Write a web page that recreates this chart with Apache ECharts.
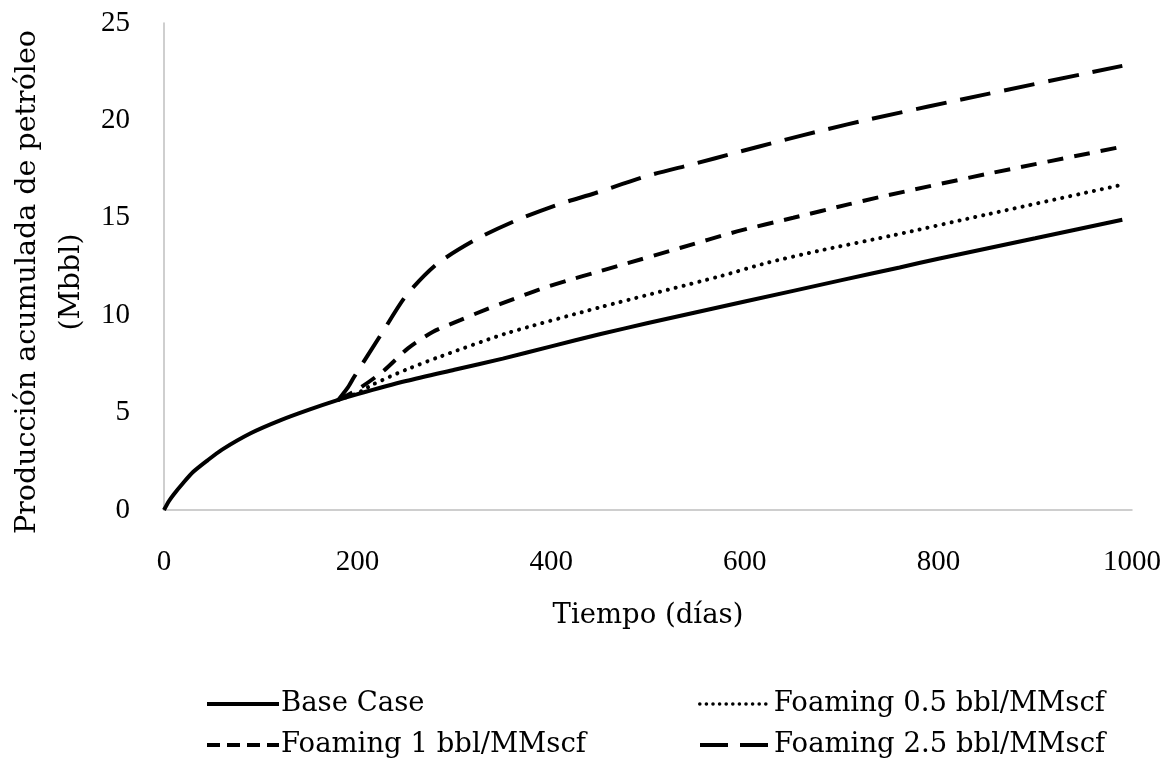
<!DOCTYPE html>
<html>
<head>
<meta charset="utf-8">
<style>
  html, body { margin: 0; padding: 0; background: #ffffff; }
  #chart { width: 1168px; height: 759px; }
</style>
<script src="https://cdn.jsdelivr.net/npm/echarts@6/dist/echarts.min.js"></script>
</head>
<body>
<div id="chart"></div>
<script>
// Cumulative oil production (Mbbl) versus time (days)
const seriesNames = ['Base Case', 'Foaming 0.5 bbl/MMscf', 'Foaming 1 bbl/MMscf', 'Foaming 2.5 bbl/MMscf'];

const baseDays = [0, 5, 10, 20, 30, 45, 60, 90, 120, 150, 180, 200, 250, 300, 350, 400, 450, 500, 600, 700, 760, 800, 900, 990];
const baseOil  = [0, 0.45, 0.8, 1.4, 1.95, 2.55, 3.1, 3.95, 4.6, 5.15, 5.65, 5.95, 6.62, 7.2, 7.77, 8.4, 9.02, 9.6, 10.7, 11.8, 12.45, 12.9, 13.95, 14.9];

const foam05Days = [180, 200, 216, 250, 285, 354, 450, 573, 624, 676, 753, 850, 990];
const foam05Oil  = [5.65, 6.0, 6.45, 7.2, 7.87, 9.07, 10.4, 11.98, 12.7, 13.3, 14.1, 15.17, 16.7];

const foam1Days = [180, 202, 227, 252, 278, 306, 333, 361, 388, 418, 445, 474, 533, 592, 650, 708, 738, 850, 990];
const foam1Oil  = [5.65, 6.25, 7.15, 8.3, 9.15, 9.75, 10.3, 10.83, 11.33, 11.8, 12.18, 12.6, 13.45, 14.3, 15.0, 15.7, 16.05, 17.25, 18.65];

const foam25Days = [180, 190, 196, 225, 250, 282, 323, 365, 409, 445, 500, 547, 592, 638, 683, 729, 850, 990];
const foam25Oil  = [5.65, 6.3, 6.8, 9.07, 11.0, 12.63, 13.91, 14.89, 15.71, 16.26, 17.16, 17.76, 18.36, 18.96, 19.52, 20.06, 21.35, 22.8];

const xTicks = { min: 0, max: 1000, interval: 200 };
const yTicks = { min: 0, max: 25, interval: 5 };

const TEXT_FONT = 'DejaVu Serif';
const NUM_FONT = 'Liberation Serif';

function pairs(xs, ys) { return xs.map((x, i) => [x, ys[i]]); }

const LINE_W = 4;
const lineStyles = [
  { color: '#000', width: LINE_W, type: 'solid' },
  { color: '#000', width: LINE_W, type: [0.1, 8], cap: 'round' },
  { color: '#000', width: LINE_W, type: [16, 11] },
  { color: '#000', width: LINE_W, type: [31, 14] }
];

const seriesData = [
  pairs(baseDays, baseOil),
  pairs(foam05Days, foam05Oil),
  pairs(foam1Days, foam1Oil),
  pairs(foam25Days, foam25Oil)
];

// Draw the foaming cases first so the base case sits on top where they overlap
const drawOrder = [1, 2, 3, 0];

const series = drawOrder.map(i => ({
  name: seriesNames[i],
  type: 'line',
  data: seriesData[i],
  showSymbol: false,
  symbol: 'none',
  smooth: 0.25,
  lineStyle: lineStyles[i],
  itemStyle: { color: '#000' },
  animation: false,
  z: i === 0 ? 5 : 3
}));

const legendPos = [
  { left: 200, top: 685 },
  { left: 693, top: 685 },
  { left: 200, top: 726 },
  { left: 693, top: 726 }
];

const legendLines = [
  { color: '#000', width: LINE_W, type: 'solid' },
  { color: '#000', width: 3.5, type: [0.1, 6.5], cap: 'round' },
  { color: '#000', width: LINE_W, type: [13, 7] },
  { color: '#000', width: LINE_W, type: [28, 12] }
];

const legends = seriesNames.map((n, i) => ({
  data: [n],
  left: legendPos[i].left,
  top: legendPos[i].top,
  orient: 'horizontal',
  itemWidth: 72,
  itemHeight: 14,
  selectedMode: false,
  itemStyle: { opacity: 0 },
  lineStyle: legendLines[i],
  textStyle: { fontFamily: TEXT_FONT, fontSize: 27.5, color: '#000', padding: [0, 0, 0, -3] }
}));

const chart = echarts.init(document.getElementById('chart'), null, { renderer: 'canvas' });

chart.setOption({
  backgroundColor: '#ffffff',
  animation: false,
  grid: { left: 164, right: 36, top: 23, bottom: 249, containLabel: false },
  legend: legends,
  xAxis: {
    type: 'value',
    min: xTicks.min, max: xTicks.max, interval: xTicks.interval,
    name: 'Tiempo (días)',
    nameLocation: 'middle',
    nameGap: 92,
    nameTextStyle: { fontFamily: TEXT_FONT, fontSize: 27.5, color: '#000' },
    axisLine: { show: true, lineStyle: { color: '#bfbfbf', width: 1.5 } },
    axisTick: { show: false },
    splitLine: { show: false },
    axisLabel: { fontFamily: NUM_FONT, fontSize: 29, color: '#000', margin: 38, formatter: v => String(v) }
  },
  yAxis: {
    type: 'value',
    min: yTicks.min, max: yTicks.max, interval: yTicks.interval,
    axisLine: { show: true, lineStyle: { color: '#bfbfbf', width: 1.5 } },
    axisTick: { show: false },
    splitLine: { show: false },
    axisLabel: { fontFamily: NUM_FONT, fontSize: 29, color: '#000', margin: 34, formatter: v => String(v) }
  },
  graphic: [{
    type: 'text',
    x: 50, y: 282,
    rotation: Math.PI / 2,
    style: {
      text: 'Producción acumulada de petróleo\n(Mbbl)',
      fontFamily: TEXT_FONT,
      fontSize: 28.5,
      lineHeight: 44,
      fill: '#000',
      align: 'center',
      verticalAlign: 'middle'
    }
  }],
  series: series
});
</script>
</body>
</html>
